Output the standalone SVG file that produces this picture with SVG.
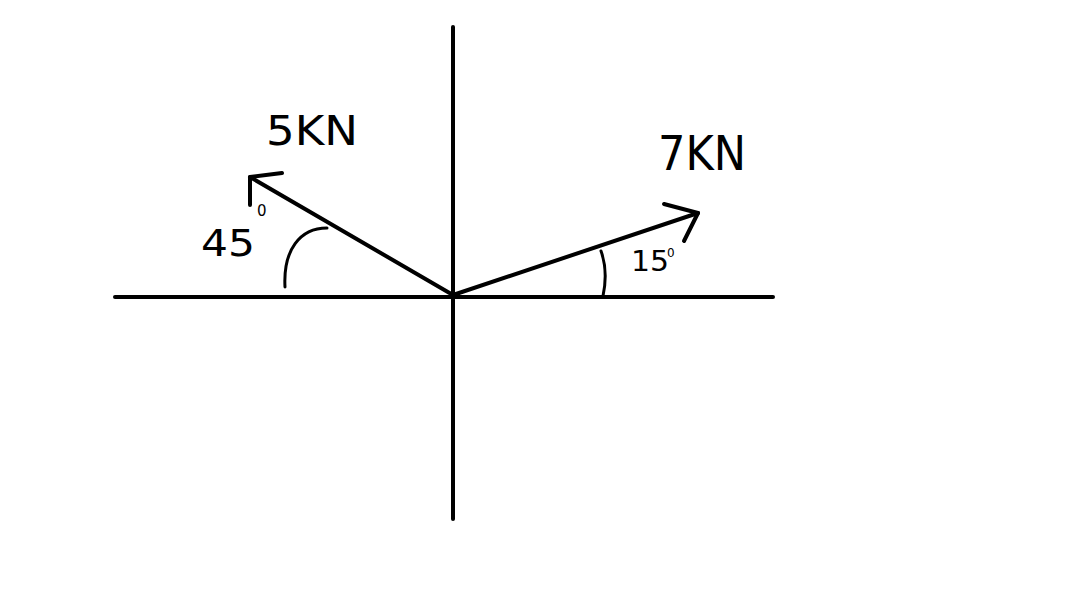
<svg xmlns="http://www.w3.org/2000/svg" width="1065" height="600" viewBox="0 0 1065 600">
<style>
.ln{stroke:#000;stroke-width:4;fill:none;stroke-linecap:round;stroke-linejoin:round}
.arc{stroke:#000;stroke-width:3;fill:none;stroke-linecap:round}
.t{font-family:"DejaVu Sans","Liberation Sans",sans-serif;fill:#000}
</style>
<rect width="1065" height="600" fill="#fff"/>
<g id="axes">
<line class="ln" x1="453" y1="27" x2="453" y2="519"/>
<line class="ln" x1="115" y1="297" x2="773" y2="297"/>
</g>
<g id="connectors">
<g id="force5">
<line class="ln" x1="453" y1="295" x2="250" y2="177"/>
<polyline class="ln" points="282,173 250,177 250,205"/>
</g>
<g id="force7">
<line class="ln" x1="453" y1="295" x2="698" y2="213"/>
<polyline class="ln" points="664,204 698,213 684,241"/>
</g>
</g>
<g id="angle45">
<path class="arc" d="M285,287 C283,250 300,228 327,228"/>
<text class="t" x="201" y="256" font-size="37" textLength="54" lengthAdjust="spacingAndGlyphs">45</text>
<text class="t" x="257" y="216" font-size="15">0</text>
</g>
<g id="angle15">
<path class="arc" d="M601,251 C606,265 606,282 603,296"/>
<text class="t" x="631" y="271" font-size="28" textLength="38" lengthAdjust="spacingAndGlyphs">15</text>
<text class="t" x="667" y="257" font-size="12">0</text>
</g>
<g id="label5">
<text class="t" x="266" y="145" font-size="41" textLength="92" lengthAdjust="spacingAndGlyphs">5KN</text>
</g>
<g id="label7">
<text class="t" x="658" y="170" font-size="48" textLength="88" lengthAdjust="spacingAndGlyphs">7KN</text>
</g>
</svg>
